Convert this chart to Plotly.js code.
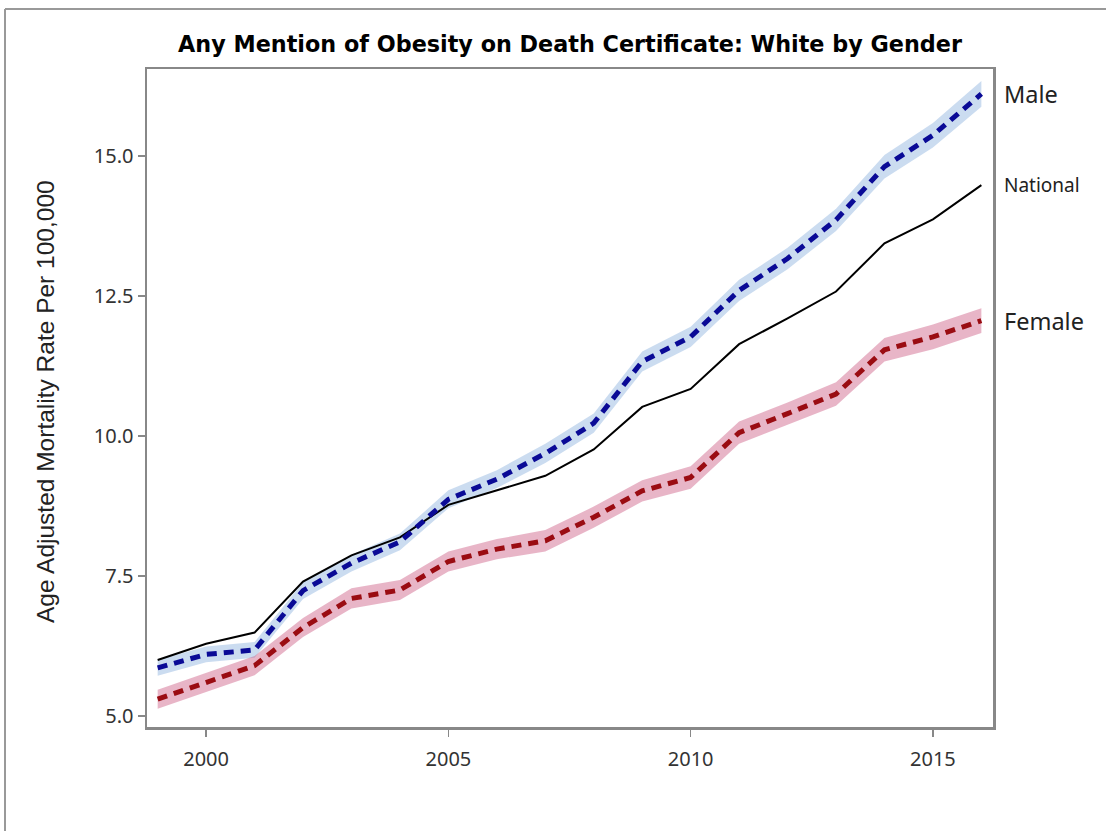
<!DOCTYPE html>
<html>
<head>
<meta charset="utf-8">
<script src="https://cdn.plot.ly/plotly-3.0.1.min.js"></script>
<style>html,body{margin:0;padding:0;background:#fff;}#chart{width:1106px;height:831px;}</style>
</head>
<body>
<div id="chart"></div>
<script>
const years = [1999,2000,2001,2002,2003,2004,2005,2006,2007,2008,2009,2010,2011,2012,2013,2014,2015,2016];
const national = [6.00,6.29,6.49,7.40,7.87,8.19,8.77,9.03,9.29,9.76,10.52,10.84,11.64,12.10,12.58,13.44,13.87,14.48];
const male = [5.86,6.10,6.18,7.24,7.73,8.11,8.87,9.23,9.69,10.23,11.33,11.77,12.60,13.17,13.86,14.81,15.37,16.11];
const female = [5.30,5.60,5.90,6.58,7.10,7.25,7.76,7.98,8.13,8.55,9.02,9.26,10.06,10.40,10.75,11.54,11.77,12.06];
const maleCI = [0.14,0.14,0.14,0.15,0.15,0.15,0.16,0.16,0.17,0.17,0.18,0.18,0.19,0.19,0.20,0.21,0.22,0.23];
const femaleCI = [0.17,0.17,0.17,0.17,0.18,0.18,0.18,0.18,0.19,0.19,0.19,0.20,0.20,0.20,0.21,0.21,0.22,0.22];
const xTicks = [2000,2005,2010,2015];
const yTicks = [5,7.5,10,12.5,15];
const yTickText = ['5.0','7.5','10.0','12.5','15.0'];

function band(vals, ci, color){
  const up = vals.map((v,i)=>v+ci[i]);
  const lo = vals.map((v,i)=>v-ci[i]);
  return [
    {x: years, y: lo, mode:'lines', line:{width:0, color:color}, hoverinfo:'skip', showlegend:false},
    {x: years, y: up, mode:'lines', line:{width:0, color:color}, fill:'tonexty', fillcolor:color, hoverinfo:'skip', showlegend:false}
  ];
}

const traces = [
  ...band(male, maleCI, 'rgba(160,192,228,0.55)'),
  ...band(female, femaleCI, 'rgba(205,90,130,0.45)'),
  {x: years, y: national, mode:'lines', name:'National', line:{color:'#000000', width:2}},
  {x: years, y: male, mode:'lines', name:'Male', line:{color:'#0a0a96', width:5, dash:'10px,7px'}},
  {x: years, y: female, mode:'lines', name:'Female', line:{color:'#9a0c12', width:5, dash:'10px,7px'}}
];

const last = years.length - 1;
const layout = {
  width:1106, height:831,
  margin:{l:147, r:113, t:69, b:104},
  paper_bgcolor:'#ffffff', plot_bgcolor:'#ffffff',
  showlegend:false,
  font:{family:'"Noto Sans", "Open Sans", sans-serif', color:'#333'},
  title:{text:'Any Mention of Obesity on Death Certificate: White by Gender', font:{family:'"DejaVu Sans", sans-serif', size:22.3, color:'#000', weight:'bold'}, xref:'paper', x:0.5, xanchor:'center', y:1-44/831, yanchor:'middle'},
  xaxis:{range:[1998.78,2016.24], tickvals:xTicks, ticktext:xTicks.map(String), ticks:'outside', ticklen:7, tickcolor:'#888', tickwidth:1.5, showgrid:false, zeroline:false, showline:true, mirror:true, linecolor:'#888', linewidth:2.5, tickfont:{size:20, color:'#333'}, ticklabelstandoff:5},
  yaxis:{range:[4.804,16.554], tickvals:yTicks, ticktext:yTickText, ticks:'outside', ticklen:7, tickcolor:'#888', tickwidth:1.5, showgrid:false, zeroline:false, showline:true, mirror:true, linecolor:'#888', linewidth:2.5, tickfont:{size:20, color:'#333'}},
  annotations:[
    {xref:'paper', yref:'paper', x:(46-147)/846, y:(727-402)/658, xanchor:'center', yanchor:'middle', textangle:-90, text:'Age Adjusted Mortality Rate Per 100,000', showarrow:false, font:{family:'"Liberation Sans", Arial, sans-serif', size:24.5, color:'#222'}},
    {xref:'paper', x:1.011, xanchor:'left', yref:'y', y:male[last], text:'Male', showarrow:false, font:{size:23.5, color:'#222', family:'"Noto Sans", sans-serif'}},
    {xref:'paper', x:1.011, xanchor:'left', yref:'y', y:national[last], text:'National', showarrow:false, font:{size:19, color:'#222', family:'"Noto Sans", sans-serif'}},
    {xref:'paper', x:1.011, xanchor:'left', yref:'y', y:female[last], text:'Female', showarrow:false, font:{size:23.5, color:'#222', family:'"Noto Sans", sans-serif'}}
  ],
  shapes:[
    {type:'line', xref:'paper', yref:'paper', x0:(5-147)/846, x1:(1106-147)/846, y0:(727-9)/658, y1:(727-9)/658, line:{color:'#999', width:2}},
    {type:'line', xref:'paper', yref:'paper', x0:(5-147)/846, x1:(5-147)/846, y0:(727-9)/658, y1:(727-831)/658, line:{color:'#999', width:2}}
  ]
};

Plotly.newPlot('chart', traces, layout, {displayModeBar:false, staticPlot:true});
</script>
</body>
</html>
